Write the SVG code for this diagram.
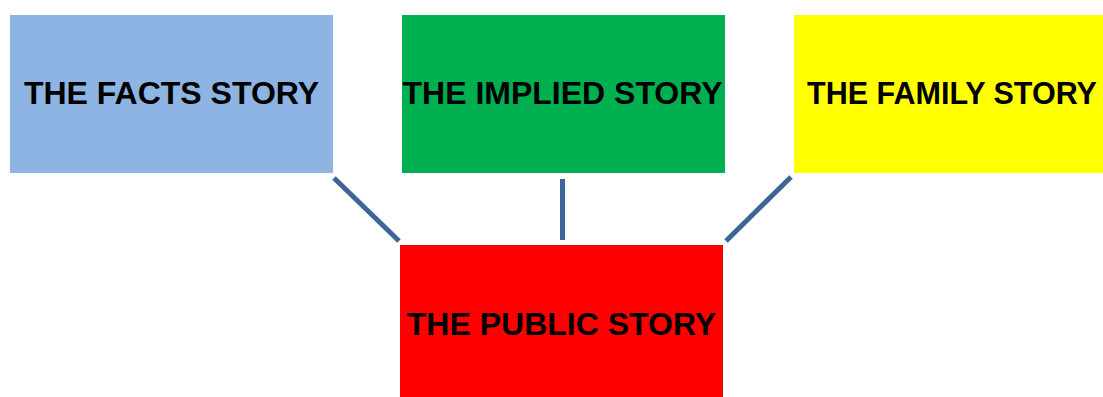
<svg xmlns="http://www.w3.org/2000/svg" width="1103" height="397" viewBox="0 0 1103 397">
<style>
.t{font-family:"Liberation Sans",Arial,sans-serif;font-weight:bold;font-size:32px;fill:#000;text-anchor:middle}
.c{stroke:#3e6597;stroke-width:5;fill:none}
</style>
<rect width="1103" height="397" fill="#fff"/>
<g id="connectors">
<line class="c" x1="334" y1="178" x2="399" y2="241"/>
<line class="c" x1="562.5" y1="179" x2="562.5" y2="240"/>
<line class="c" x1="791" y1="177" x2="726" y2="241"/>
</g>
<g id="facts"><rect x="10" y="15" width="323" height="158" fill="#8eb4e3"/><text class="t" x="171.5" y="103.5">THE FACTS STORY</text></g>
<g id="implied"><rect x="402" y="15" width="323" height="158" fill="#00b050"/><text class="t" x="562.5" y="103.5">THE IMPLIED STORY</text></g>
<g id="family"><rect x="794" y="15" width="323" height="158" fill="#ffff00"/><text class="t" x="952" y="103.5" style="font-size:30.5px">THE FAMILY STORY</text></g>
<g id="public"><rect x="400" y="245" width="323" height="158" fill="#ff0000"/><text class="t" x="561.5" y="334.5">THE PUBLIC STORY</text></g>
</svg>
